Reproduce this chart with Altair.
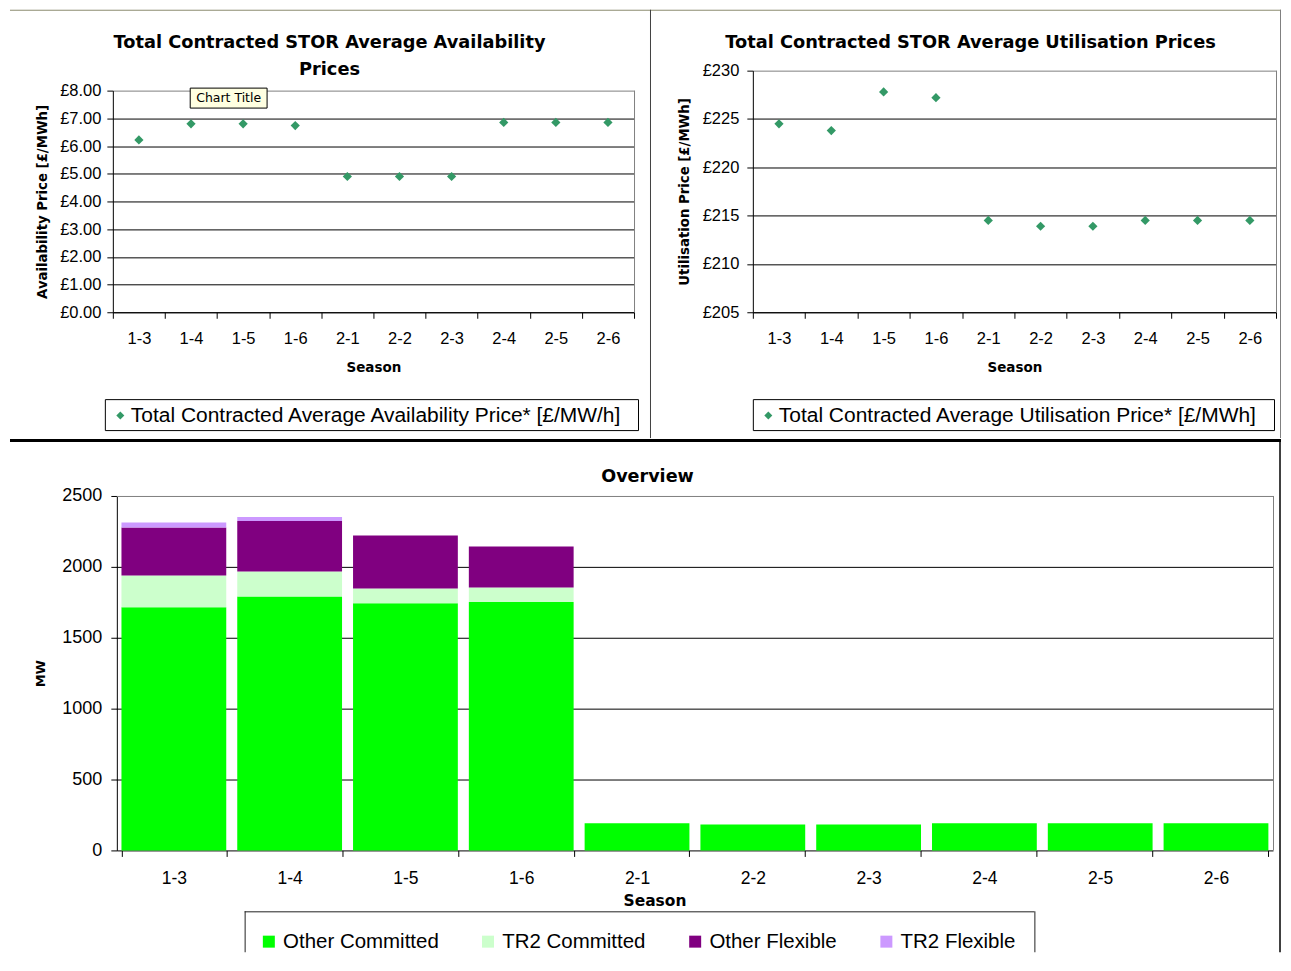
import altair as alt
import pandas as pd

# ---------------- data ----------------
seasons = ["1-3", "1-4", "1-5", "1-6", "2-1", "2-2", "2-3", "2-4", "2-5", "2-6"]
availability_price = [6.22, 6.80, 6.80, 6.74, 4.90, 4.90, 4.90, 6.85, 6.85, 6.85]
utilisation_price = [224.5, 223.8, 227.8, 227.2, 214.5, 213.9, 213.9, 214.5, 214.5, 214.5]
other_committed = [1716, 1791, 1744, 1753, 192, 182, 182, 192, 192, 192]
tr2_committed = [223, 177, 104, 102, 0, 0, 0, 0, 0, 0]
other_flexible = [339, 356, 373, 289, 0, 0, 0, 0, 0, 0]
tr2_flexible = [35, 28, 0, 0, 0, 0, 0, 0, 0, 0]
mw_series = ["Other Committed", "TR2 Committed", "Other Flexible", "TR2 Flexible"]
mw_colors = ["#00FF00", "#CCFFCC", "#800080", "#CC99FF"]
avail_label = "Total Contracted Average Availability Price* [£/MW/h]"
util_label = "Total Contracted Average Utilisation Price* [£/MWh]"
avail_ticks = [0, 1, 2, 3, 4, 5, 6, 7, 8]
util_ticks = [205, 210, 215, 220, 225, 230]
mw_ticks = [0, 500, 1000, 1500, 2000, 2500]

# ---------------- styling ----------------
LAB = "Liberation Sans"
HEAD = "DejaVu Sans"
GREEN = "#339966"
GRAY = "#808080"

LW, LH = 522, 242      # top-left panel (visible plot starts 20px down)
RW, RH = 524, 242      # top-right panel
BW, BH = 1162, 355     # bottom panel (visible plot starts 4px right)
BX0 = 4
X_LEFT, X_RIGHT = -103, 1170
NO_VIEW = alt.ViewBackground(stroke=None, strokeWidth=0)


def one():
    return pd.DataFrame({"k": [0]})


def hline(x1, x2, y, color, width=1.0):
    return alt.Chart(one()).mark_rule(color=color, strokeWidth=width).encode(
        x=alt.value(x1), x2=alt.value(x2), y=alt.value(y + 0.5))


def vline(x, y1, y2, color, width=1.0):
    return alt.Chart(one()).mark_rule(color=color, strokeWidth=width).encode(
        x=alt.value(x + 0.5), y=alt.value(y1), y2=alt.value(y2))


def box(x1, x2, y1, y2, fill="white", stroke="black"):
    return alt.Chart(one()).mark_rect(fill=fill, stroke=stroke, strokeWidth=1).encode(
        x=alt.value(x1 + 0.5), x2=alt.value(x2 + 0.5),
        y=alt.value(y1 + 0.5), y2=alt.value(y2 + 0.5))


def label(txt, x, y, size, font=HEAD, weight="bold"):
    return alt.Chart(one()).mark_text(
        font=font, fontSize=size, fontWeight=weight, align="center",
        baseline="middle", color="black").encode(
        x=alt.value(x), y=alt.value(y), text=alt.value(txt))


def season_x():
    return alt.X(
        "Season:N", sort=seasons,
        scale=alt.Scale(type="band", domain=seasons, paddingInner=0, paddingOuter=0),
        axis=alt.Axis(title="Season", tickBand="extent", labelAngle=0, tickSize=6,
                      labelFont=LAB, labelFontSize=16.5, labelPadding=12,
                      titleFont=HEAD, titleFontWeight="bold", titleFontSize=13.5,
                      titlePadding=14, grid=False, domainColor="black",
                      tickColor="black", labelColor="black", titleColor="black"))


def price_legend(x, y):
    return alt.Legend(
        title=None, orient="none", legendX=x, legendY=y, symbolType="diamond",
        symbolSize=64, labelFont=LAB, labelFontSize=21, labelColor="black",
        labelLimit=1000, labelOffset=0, padding=6)


# ---------------- top-left: availability ----------------
avail_df = pd.DataFrame({"Season": seasons, "Price": availability_price,
                         "Series": [avail_label] * len(seasons)})

left_points = alt.Chart(avail_df).mark_point(
    shape="diamond", filled=True, size=85, opacity=1).encode(
    x=season_x(),
    y=alt.Y("Price:Q",
            scale=alt.Scale(domain=[0, 8], range=[LH, 20], nice=False),
            axis=alt.Axis(title="Availability Price [£/MWh]", values=avail_ticks,
                          labelExpr="'£' + format(datum.value, '.2f')", tickSize=6,
                          labelPadding=6, labelFont=LAB, labelFontSize=16.5,
                          titleFont=HEAD, titleFontSize=13.3, titleFontWeight="bold",
                          titlePadding=10, grid=True,
                          gridColor={"condition": {"test": "datum.value == 8", "value": GRAY},
                                     "value": "black"},
                          domainColor="black", tickColor="black",
                          labelColor="black", titleColor="black")),
    color=alt.Color("Series:N", scale=alt.Scale(domain=[avail_label], range=[GREEN]),
                    legend=price_legend(-9, 329)))

left = alt.layer(
    hline(X_LEFT, X_RIGHT, -61, "#8c8c6e"),
    vline(538, -61, 368, "#404040"),
    vline(X_RIGHT - 1, -61, 368, GRAY),
    label("Total Contracted STOR Average Availability", 217, -28, 17.8),
    label("Prices", 217, -1, 17.8),
    vline(LW, 20, LH, GRAY),
    box(-8, 526, 329, 360),
    left_points,
    box(77, 154, 17, 37, fill="#FFFFE1"),
    label("Chart Title", 116, 27.5, 12.5, font=HEAD, weight="normal"),
).properties(width=LW, height=LH, view=NO_VIEW)

# ---------------- top-right: utilisation ----------------
util_df = pd.DataFrame({"Season": seasons, "Price": utilisation_price,
                        "Series": [util_label] * len(seasons)})

right_points = alt.Chart(util_df).mark_point(
    shape="diamond", filled=True, size=85, opacity=1).encode(
    x=season_x(),
    y=alt.Y("Price:Q",
            scale=alt.Scale(domain=[205, 230], nice=False, zero=False),
            axis=alt.Axis(title="Utilisation Price [£/MWh]", values=util_ticks,
                          labelExpr="'£' + datum.value", tickSize=6,
                          labelPadding=8, labelFont=LAB, labelFontSize=16.5,
                          titleFont=HEAD, titleFontSize=13.3, titleFontWeight="bold",
                          titlePadding=11, grid=True,
                          gridColor={"condition": {"test": "datum.value == 230", "value": GRAY},
                                     "value": "black"},
                          domainColor="black", tickColor="black",
                          labelColor="black", titleColor="black")),
    color=alt.Color("Series:N", scale=alt.Scale(domain=[util_label], range=[GREEN]),
                    legend=price_legend(-1, 329)))

right = alt.layer(
    label("Total Contracted STOR Average Utilisation Prices", 218, -28, 17.8),
    vline(RW, 0, RH, GRAY),
    box(0, 522, 329, 360),
    right_points,
).properties(width=RW, height=RH, view=NO_VIEW)

# ---------------- bottom: overview stacked bars ----------------
rows = []
for i, s in enumerate(seasons):
    for k, vals in enumerate([other_committed, tr2_committed, other_flexible, tr2_flexible]):
        rows.append({"Season": s, "Series": mw_series[k], "MW": vals[i], "order": k})
mw_df = pd.DataFrame(rows)
grid_df = pd.DataFrame({"MW": mw_ticks[1:]})

y_scale = alt.Scale(domain=[0, 2500], nice=False)
y_axis = alt.Axis(title="MW", values=mw_ticks, format="d", offset=-BX0, tickSize=6,
                  labelPadding=9, labelFont=LAB, labelFontSize=18, titleFont=HEAD,
                  titleFontSize=13, titleFontWeight="bold", titlePadding=14, grid=False,
                  domainColor="black", tickColor="black", labelColor="black",
                  titleColor="black")

grid = alt.Chart(grid_df).mark_rule(strokeWidth=1, yOffset=0.5).encode(
    y=alt.Y("MW:Q", stack=None, scale=y_scale, axis=y_axis),
    x=alt.value(BX0), x2=alt.value(BW),
    color=alt.condition("datum.MW == 2500", alt.value(GRAY), alt.value("black")))

bars = alt.Chart(mw_df).mark_bar(strokeWidth=0).encode(
    x=alt.X("Season:N", sort=seasons,
            scale=alt.Scale(domain=seasons, range=[BX0, BW], paddingInner=0.095,
                            paddingOuter=0.04),
            axis=alt.Axis(title="Season", tickBand="extent", labelAngle=0, tickSize=6,
                          labelFont=LAB, labelFontSize=17.5, labelPadding=13,
                          titleFont=HEAD, titleFontWeight="bold", titleFontSize=15.5,
                          titleX=542.5, titleY=50, titleBaseline="middle",
                          grid=False, domainColor="black", tickColor="black",
                          labelColor="black", titleColor="black")),
    y=alt.Y("MW:Q", stack="zero", scale=y_scale, axis=y_axis),
    order=alt.Order("order:Q", sort="ascending"),
    color=alt.Color("Series:N", scale=alt.Scale(domain=mw_series, range=mw_colors),
                    legend=alt.Legend(title=None, orient="none", legendX=146, legendY=436,
                                      direction="horizontal", symbolType="square",
                                      symbolSize=144, symbolStrokeWidth=0,
                                      labelFont=LAB, labelFontSize=20.5,
                                      labelColor="black", labelLimit=1000,
                                      labelOffset=4, columnPadding=38.5, padding=0)))

bottom = alt.layer(
    alt.Chart(one()).mark_rule(color="black", strokeWidth=3).encode(
        x=alt.value(X_LEFT), x2=alt.value(X_RIGHT), y=alt.value(-55.5)),
    vline(X_RIGHT - 1.5, -55.5, 457, "black", 1.5),
    label("Overview", 535.5, -19, 17.6),
    grid,
    vline(BW, 0, BH, GRAY),
    bars,
    hline(132, 923, 416, "#202020"),
    vline(132, 416, 457, "#202020"),
    vline(923, 416, 457, "#202020"),
).properties(width=BW, height=BH, view=NO_VIEW)

top = alt.hconcat(left, right, spacing=119, bounds="flush").resolve_scale(
    color="independent").resolve_legend(color="independent")

chart = alt.vconcat(top, bottom, spacing=0).resolve_scale(
    color="independent").resolve_legend(color="independent").properties(
    padding=0).configure_view(stroke=None, strokeWidth=0).configure(font=LAB)

chart.save("out.html", embed_options={"renderer": "svg", "actions": False})
